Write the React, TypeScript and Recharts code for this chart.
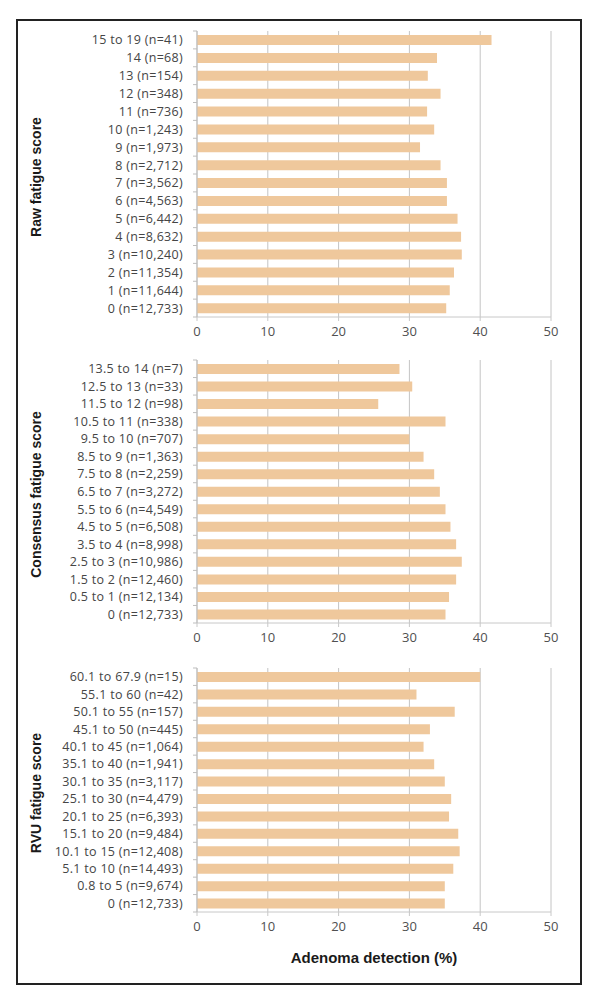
import { BarChart, Bar, XAxis, YAxis, CartesianGrid } from 'recharts'

const rawLabels = ['0 (n=12,733)', '1 (n=11,644)', '2 (n=11,354)', '3 (n=10,240)', '4 (n=8,632)', '5 (n=6,442)', '6 (n=4,563)', '7 (n=3,562)', '8 (n=2,712)', '9 (n=1,973)', '10 (n=1,243)', '11 (n=736)', '12 (n=348)', '13 (n=154)', '14 (n=68)', '15 to 19 (n=41)']
const rawValues = [35.2, 35.7, 36.3, 37.4, 37.3, 36.8, 35.3, 35.3, 34.4, 31.5, 33.5, 32.5, 34.4, 32.6, 33.9, 41.6]

const consLabels = ['0 (n=12,733)', '0.5 to 1 (n=12,134)', '1.5 to 2 (n=12,460)', '2.5 to 3 (n=10,986)', '3.5 to 4 (n=8,998)', '4.5 to 5 (n=6,508)', '5.5 to 6 (n=4,549)', '6.5 to 7 (n=3,272)', '7.5 to 8 (n=2,259)', '8.5 to 9 (n=1,363)', '9.5 to 10 (n=707)', '10.5 to 11 (n=338)', '11.5 to 12 (n=98)', '12.5 to 13 (n=33)', '13.5 to 14 (n=7)']
const consValues = [35.1, 35.6, 36.6, 37.4, 36.6, 35.8, 35.1, 34.3, 33.5, 32.0, 30.0, 35.1, 25.6, 30.4, 28.6]

const rvuLabels = ['0 (n=12,733)', '0.8 to 5 (n=9,674)', '5.1 to 10 (n=14,493)', '10.1 to 15 (n=12,408)', '15.1 to 20 (n=9,484)', '20.1 to 25 (n=6,393)', '25.1 to 30 (n=4,479)', '30.1 to 35 (n=3,117)', '35.1 to 40 (n=1,941)', '40.1 to 45 (n=1,064)', '45.1 to 50 (n=445)', '50.1 to 55 (n=157)', '55.1 to 60 (n=42)', '60.1 to 67.9 (n=15)']
const rvuValues = [35.0, 35.0, 36.2, 37.1, 36.9, 35.6, 35.9, 35.0, 33.5, 32.0, 32.9, 36.4, 31.0, 40.0]

const xTicks = [0, 10, 20, 30, 40, 50]

const AXIS_X = 197
const FONT = '"Open Sans", sans-serif'
const BOLD_FONT = '"Liberation Sans", Arial, sans-serif'

type PanelProps = {
  labels: string[]
  values: number[]
  title: string
  top: number
  plotHeight: number
  xTitle?: string
}

const Panel = ({ labels, values, title, top, plotHeight, xTitle }: PanelProps) => {
  const data = labels.map((label, i) => ({ label, value: values[i] }))
  const band = plotHeight / labels.length
  const xAxisHeight = xTitle ? 56 : 30
  const height = 10 + plotHeight + xAxisHeight

  const YTick = (props: any) => {
    const { x, y, payload, index } = props
    return (
      <g>
        <text x={x} y={y} dy={4.5} textAnchor="end" fontSize={12.5} letterSpacing={0.3} fill="#454545" fontFamily={FONT}>
          {payload.value}
        </text>
        <line x1={AXIS_X - 4} x2={AXIS_X} y1={y - band / 2} y2={y - band / 2} stroke="#BDBDBD" />
        {index === 0 && <line x1={AXIS_X - 4} x2={AXIS_X} y1={y + band / 2} y2={y + band / 2} stroke="#BDBDBD" />}
      </g>
    )
  }

  return (
    <div style={{ position: 'absolute', left: 0, top }}>
      <BarChart width={601} height={height} data={data} layout="vertical"
        margin={{ top: 10, right: 50, bottom: 0, left: 0 }}>
        <CartesianGrid horizontal={false} stroke="#C4C4C4" />
        <XAxis type="number" domain={[0, 50]} ticks={xTicks} height={xAxisHeight}
          stroke="#C8C8C8" tickSize={4} tickMargin={6}
          tick={{ fontSize: 13, fill: '#505050', fontFamily: FONT }}
          label={xTitle ? { value: xTitle, position: 'insideBottom', offset: 5, fontSize: 15, fontWeight: 'bold', fill: '#1a1a1a', fontFamily: BOLD_FONT } : undefined} />
        <YAxis type="category" dataKey="label" reversed width={AXIS_X} stroke="#BDBDBD"
          tickSize={0} tickMargin={14} tick={YTick} interval={0}
          label={{
            content: (p: any) => {
              const vb = p.viewBox
              const cx = 36
              const cy = vb.y + vb.height / 2 + 3
              return (
                <text x={cx} y={cy} transform={`rotate(-90 ${cx} ${cy})`} textAnchor="middle" dominantBaseline="central"
                  fontSize={14} fontWeight="bold" fill="#1a1a1a" fontFamily={BOLD_FONT}>
                  {title}
                </text>
              )
            },
          }} />
        <Bar dataKey="value" fill="#EFC89C" barSize={10} isAnimationActive={false} />
      </BarChart>
    </div>
  )
}

export default function App() {
  return (
    <div style={{ position: 'absolute', left: 0, top: 0, width: 601, height: 1005, background: '#fff' }}>
      <div style={{ position: 'absolute', left: 16, top: 19, width: 562, height: 962, border: '2px solid #222' }} />
      <Panel labels={rawLabels} values={rawValues} title="Raw fatigue score" top={21} plotHeight={286} />
      <Panel labels={consLabels} values={consValues} title="Consensus fatigue score" top={350} plotHeight={263} />
      <Panel labels={rvuLabels} values={rvuValues} title="RVU fatigue score" top={658} plotHeight={244} xTitle="Adenoma detection (%)" />
    </div>
  )
}
